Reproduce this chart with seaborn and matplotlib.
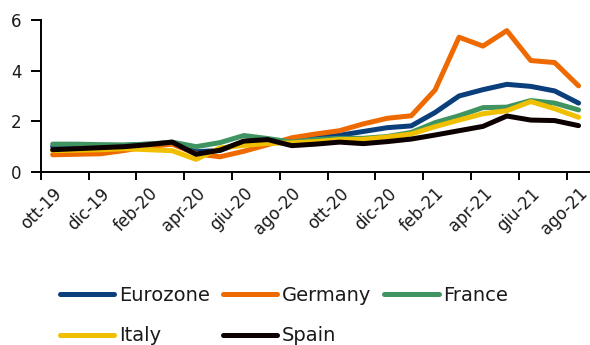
import matplotlib
matplotlib.use("Agg")
import matplotlib.pyplot as plt
from matplotlib.lines import Line2D
import numpy as np
import pandas as pd
import seaborn as sns

# Monthly periods (Italian abbreviations), Oct 2019 - Aug 2021
months = ["ott-19", "nov-19", "dic-19", "gen-20", "feb-20", "mar-20", "apr-20",
          "mag-20", "giu-20", "lug-20", "ago-20", "set-20", "ott-20", "nov-20",
          "dic-20", "gen-21", "feb-21", "mar-21", "apr-21", "mag-21", "giu-21",
          "lug-21", "ago-21"]

eurozone = [1.00, 1.00, 1.00, 1.05, 1.10, 1.12, 0.80, 0.85, 1.20, 1.25, 1.15, 1.35,
            1.45, 1.60, 1.75, 1.82, 2.35, 3.00, 3.25, 3.46, 3.38, 3.20, 2.72]
germany = [0.68, 0.70, 0.72, 0.85, 1.00, 1.10, 0.72, 0.60, 0.82, 1.08, 1.35, 1.50,
           1.63, 1.90, 2.12, 2.22, 3.24, 5.32, 4.97, 5.58, 4.40, 4.32, 3.40]
france = [1.10, 1.10, 1.08, 1.07, 1.10, 1.18, 1.00, 1.16, 1.44, 1.32, 1.18, 1.28,
          1.33, 1.33, 1.40, 1.56, 1.95, 2.22, 2.54, 2.56, 2.82, 2.72, 2.45]
italy = [0.84, 0.86, 0.88, 0.92, 0.88, 0.84, 0.50, 0.95, 1.05, 1.13, 1.15, 1.20,
         1.28, 1.29, 1.38, 1.50, 1.79, 2.05, 2.30, 2.42, 2.78, 2.50, 2.16]
spain = [0.88, 0.92, 0.96, 1.00, 1.08, 1.18, 0.70, 0.86, 1.22, 1.28, 1.04, 1.10,
         1.18, 1.12, 1.20, 1.30, 1.46, 1.63, 1.80, 2.21, 2.05, 2.03, 1.83]

series_names = ["Eurozone", "Germany", "France", "Italy", "Spain"]
series_values = [eurozone, germany, france, italy, spain]
colors = ["#0b3f7c", "#ee6a00", "#3f9461", "#f0c000", "#0d0000"]

yticks = [0, 2, 4, 6]

df = pd.DataFrame({
    "pos": np.tile(np.arange(len(months)), len(series_names)),
    "value": np.concatenate(series_values),
    "country": np.repeat(series_names, len(months)),
})

sns.set_theme(style="ticks")
plt.rcParams["font.family"] = ["DejaVu Sans"]

W, H = 590, 345
fig = plt.figure(figsize=(W / 100, H / 100), dpi=100)
left, right, top, bottom = 40.7, 590.5, 20, 172
ax = fig.add_axes([left / W, 1 - bottom / H, (right - left) / W, (bottom - top) / H])

sns.lineplot(data=df, x="pos", y="value", hue="country", hue_order=series_names,
             palette=colors, linewidth=3.6, legend=False, ax=ax)

ax.set_xlim(-0.5, len(months) - 0.5)
ax.set_ylim(0, 6)
ax.set_xlabel("")
ax.set_ylabel("")

# y axis
ax.set_yticks(yticks)
ax.set_yticklabels([str(v) for v in yticks])
ax.tick_params(axis="y", length=7, width=1.4, color="black", pad=7,
               labelsize=12, labelcolor="#1a1a1a")

# x axis: tick marks between categories, labels under every other month
ax.set_xticks(np.arange(-0.5, len(months) - 1, 2))
ax.set_xticklabels([])
ax.tick_params(axis="x", which="major", length=6, width=1.4, color="black")
ax.set_xticks(np.arange(0, len(months), 2), minor=True)
ax.set_xticklabels(months[::2], minor=True, rotation=45, ha="right", va="top",
                   rotation_mode="anchor")
ax.tick_params(axis="x", which="minor", length=0, pad=9, labelsize=12,
               labelcolor="#1a1a1a")

for side in ["top", "right"]:
    ax.spines[side].set_visible(False)
for side in ["left", "bottom"]:
    ax.spines[side].set_color("black")
    ax.spines[side].set_linewidth(1.4)

# legend laid out row by row: 3 entries on the first row, 2 on the second
handles = {n: Line2D([0], [0], color=c, lw=3.6, solid_capstyle="round")
           for n, c in zip(series_names, colors)}
order = ["Eurozone", "Italy", "Germany", "Spain", "France"]
fig.legend([handles[n] for n in order], order, ncol=3, loc="upper left",
           bbox_to_anchor=(60 / W, 1 - 286 / H), frameon=False,
           fontsize=14, handlelength=2.8, handletextpad=0.25,
           columnspacing=0.65, borderpad=0, borderaxespad=0, labelspacing=1.1,
           labelcolor="#1a1a1a")

fig.savefig("out.png", dpi=100)
